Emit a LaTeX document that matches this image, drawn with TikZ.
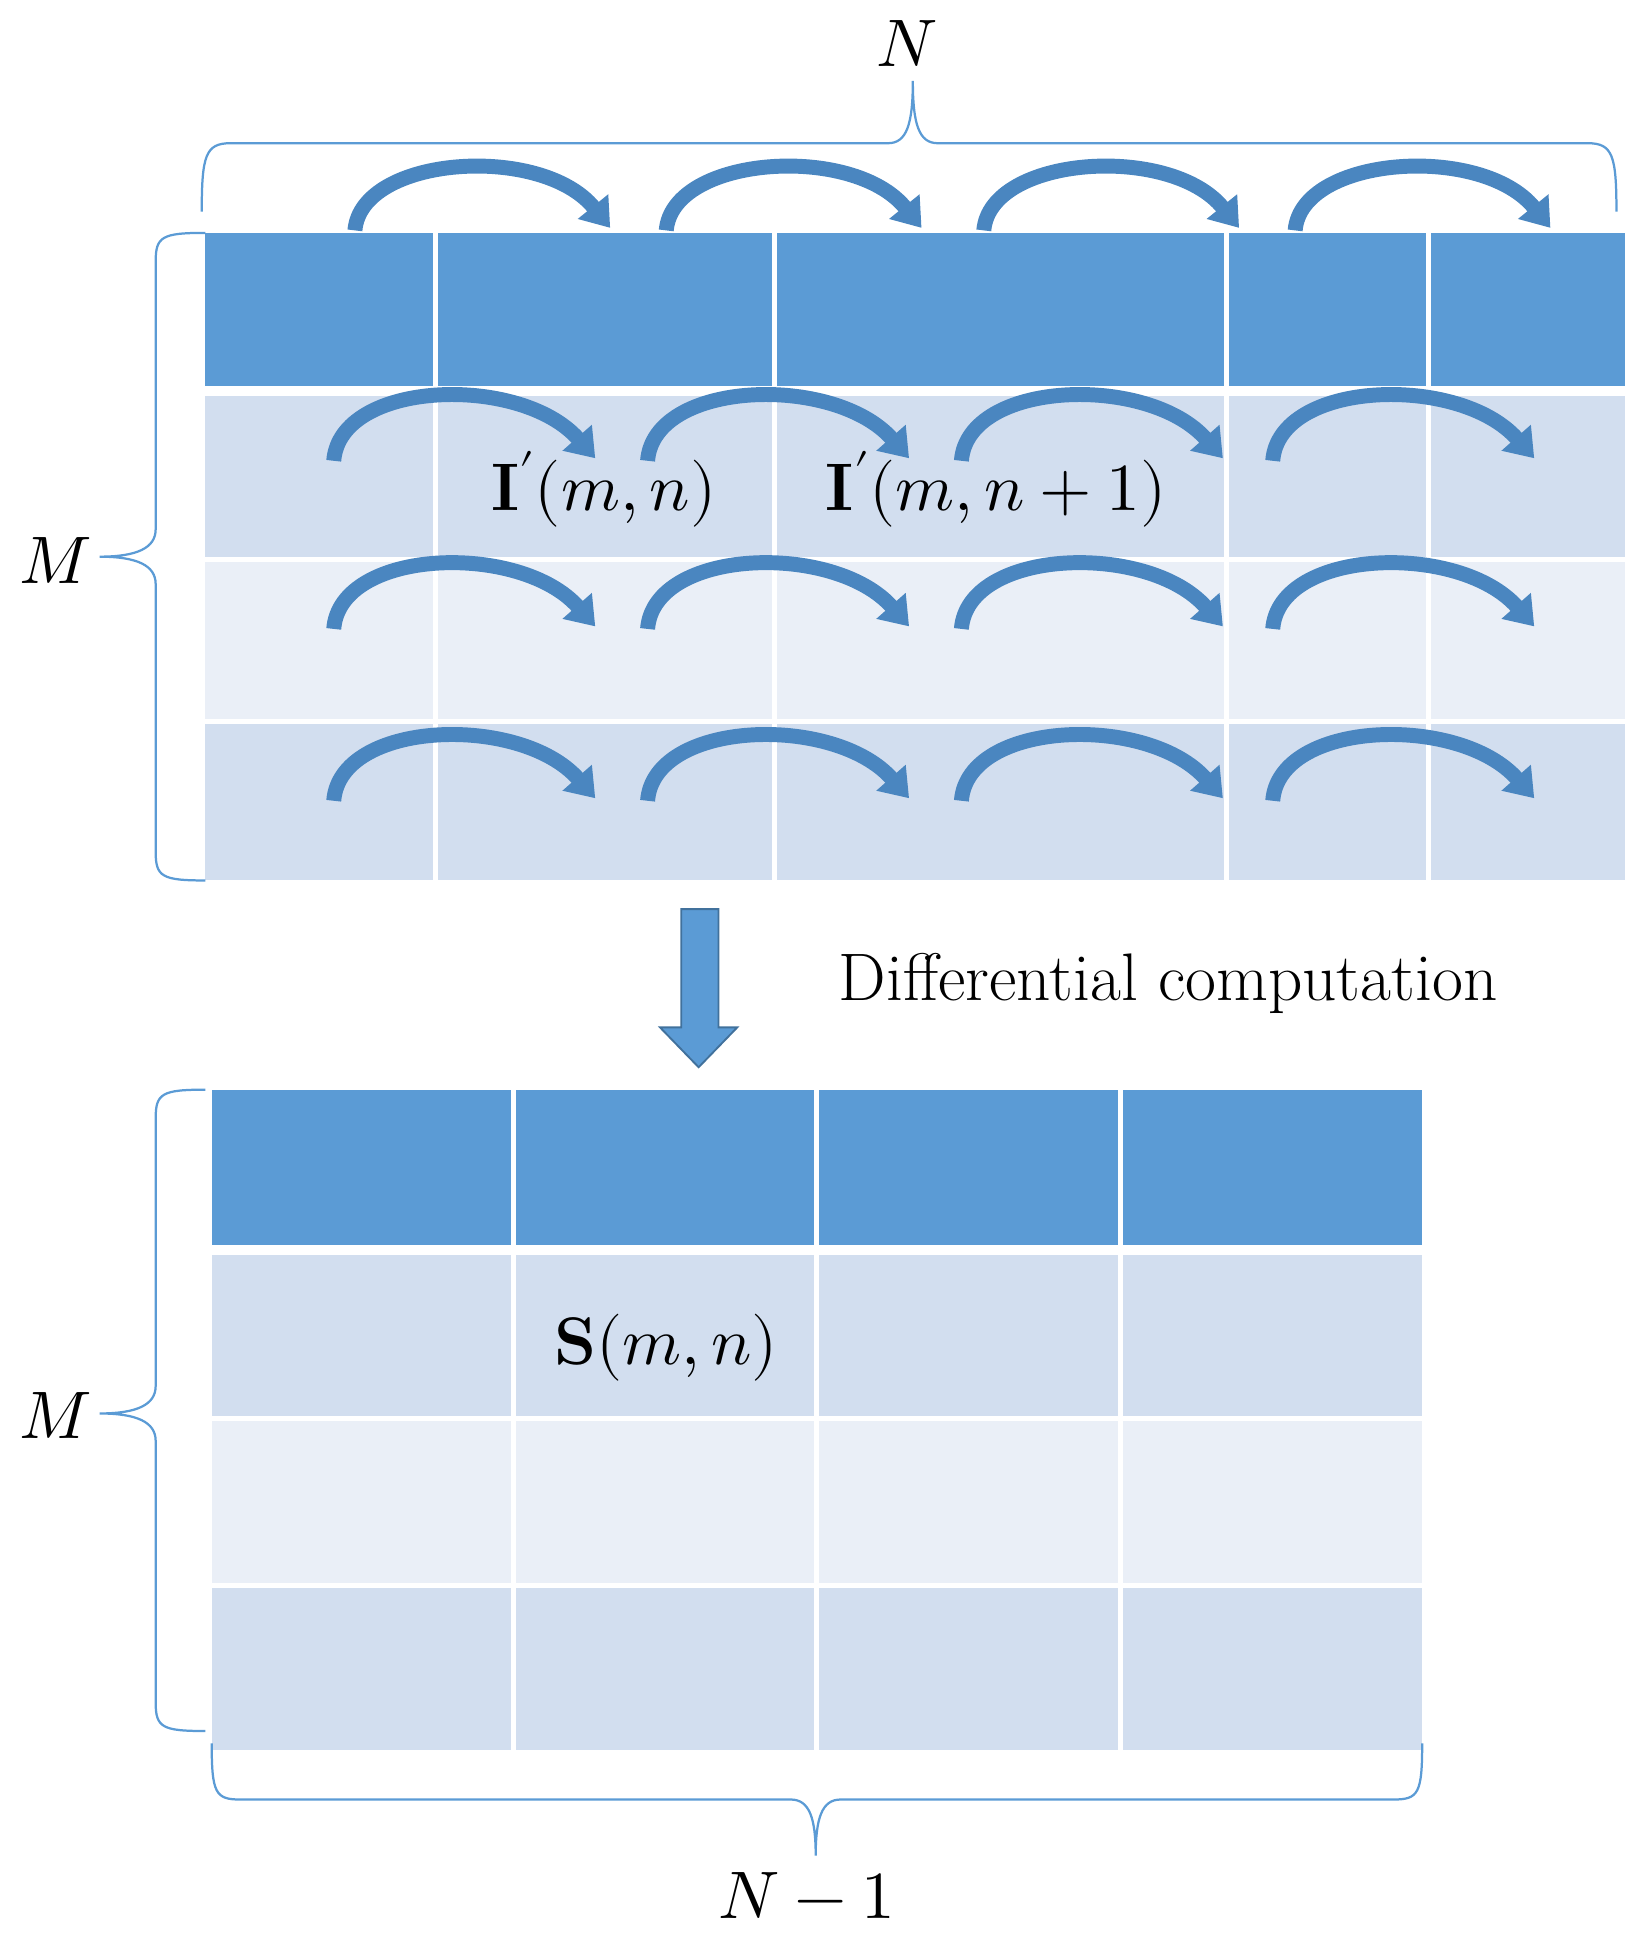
\documentclass[tikz,border=0pt]{standalone}
\usepackage{unicode-math}
\setmathfont{Latin Modern Math}
\usetikzlibrary{arrows.meta}
\definecolor{hdr}{HTML}{5B9BD5}
\definecolor{rowa}{HTML}{D2DEEF}
\definecolor{rowb}{HTML}{EAEFF7}
\definecolor{arr}{HTML}{4A86C0}
\definecolor{arrd}{HTML}{41719C}
\tikzset{
 sep/.style={white,line width=4pt},
 carrow/.style={arr,line width=12pt,-{Triangle[width=30pt,length=22pt]}},
 brc/.style={hdr,line width=1.8pt},
 big/.style={font=\fontsize{54}{60}\selectfont}
}
\begin{document}
\begin{tikzpicture}[x=1pt,y=-1pt]
\useasboundingbox (0,0) rectangle (1320,1553);
% top table
\fill[hdr] (165,187) rectangle (1305,310);
\fill[rowa] (165,318) rectangle (1305,447);
\fill[rowb] (165,449) rectangle (1305,578);
\fill[rowa] (165,580) rectangle (1305,707);
\foreach \x in {350,622,985,1147}{\draw[sep] (\x,187) -- (\x,707);}
\draw[sep] (165,314)--(1305,314);
\draw[sep] (165,449)--(1305,449);
\draw[sep] (165,579)--(1305,579);
% bottom table
\fill[hdr] (170,875) rectangle (1142,1000);
\fill[rowa] (170,1008) rectangle (1142,1138);
\fill[rowb] (170,1140) rectangle (1142,1272);
\fill[rowa] (170,1274) rectangle (1142,1405);
\foreach \x in {412,656,900}{\draw[sep] (\x,875) -- (\x,1405);}
\draw[sep] (170,1004)--(1142,1004);
\draw[sep] (170,1139)--(1142,1139);
\draw[sep] (170,1273)--(1142,1273);
% arrows
\foreach \x in {285,535,790,1040}{
 \draw[carrow] (\x,185) .. controls (\x+5,125) and (\x+150,115) .. (\x+205,183);}
\foreach \y in {370,505,643}{
 \foreach \x in {268,520,772,1022}{
  \draw[carrow] (\x,\y) .. controls (\x+5,\y-65) and (\x+150,\y-70) .. (\x+210,\y-2);}}
% braces
\draw[brc] (162,170) .. controls (162,125) and (165,115) .. (185,115) -- (713,115)
  .. controls (728,115) and (733,100) .. (733,65)
  .. controls (733,100) and (738,115) .. (753,115) -- (1275,115)
  .. controls (1295,115) and (1298,125) .. (1298,170);
\draw[brc] (165,187) .. controls (130,187) and (125,190) .. (125,210) -- (125,425)
  .. controls (125,440) and (110,447) .. (80,447)
  .. controls (110,447) and (125,454) .. (125,469) -- (125,684)
  .. controls (125,704) and (130,707) .. (165,707);
\draw[brc] (165,875) .. controls (130,875) and (125,878) .. (125,898) -- (125,1113)
  .. controls (125,1128) and (110,1135) .. (80,1135)
  .. controls (110,1135) and (125,1142) .. (125,1157) -- (125,1367)
  .. controls (125,1387) and (130,1390) .. (165,1390);
\draw[brc] (170,1400) .. controls (170,1440) and (173,1445) .. (193,1445) -- (635,1445)
  .. controls (650,1445) and (655,1460) .. (655,1490)
  .. controls (655,1460) and (660,1445) .. (675,1445) -- (1119,1445)
  .. controls (1139,1445) and (1142,1440) .. (1142,1400);
% down arrow
\filldraw[fill=hdr,draw=arrd,line width=1.5pt] (547,730)--(577,730)--(577,825)--(592,825)--(561,857)--(530,825)--(547,825)--cycle;
% texts
\node[big] (tN) at (728,35) {$N$};
\node[big] (tM1) at (45,450) {$M$};
\node[big] (tM2) at (45,1137) {$M$};
\node[big] (tN1) at (648,1522) {$N-1$};
\node[big] (i1) at (485,393) {$\mathbf{I}'(m,n)$};
\node[big] (i2) at (800,393) {$\mathbf{I}'(m,n+1)$};
\node[big] (s1) at (535,1082) {$\mathbf{S}(m,n)$};
\node[big] (dc) at (938,790) {Differential computation};
\end{tikzpicture}
\end{document}
